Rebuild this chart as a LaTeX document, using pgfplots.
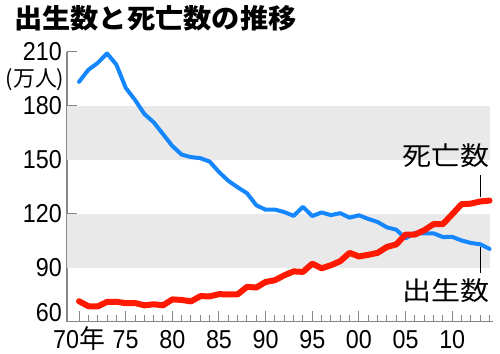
\documentclass[border=0pt]{standalone}
\usepackage{fontspec}
\usepackage{pgfplots}
\pgfplotsset{compat=1.18}
\setmainfont{Liberation Sans}
\newfontfamily\numfont{Liberation Sans}[FakeStretch=0.9]
\newfontfamily\jpfont{Noto Sans CJK JP}
\newfontfamily\jpwide{Noto Sans CJK JP}[FakeStretch=1.12]
\newfontfamily\jptitle{Noto Sans CJK JP}[FakeStretch=1.05]
\definecolor{axisgray}{RGB}{135,135,135}
\definecolor{bandgray}{RGB}{233,233,233}
\definecolor{birthblue}{RGB}{20,135,255}
\definecolor{deathred}{RGB}{255,25,0}
\pgfplotstableread{
year births
1970 193.4
1971 200.1
1972 203.9
1973 209.2
1974 203.0
1975 190.1
1976 183.3
1977 175.5
1978 170.9
1979 164.3
1980 157.7
1981 152.9
1982 151.5
1983 150.9
1984 149.0
1985 143.2
1986 138.3
1987 134.7
1988 131.4
1989 124.7
1990 122.2
1991 122.3
1992 120.9
1993 118.8
1994 123.8
1995 118.7
1996 120.7
1997 119.2
1998 120.3
1999 117.8
2000 119.1
2001 117.1
2002 115.4
2003 112.4
2004 111.1
2005 106.3
2006 109.3
2007 109.0
2008 109.1
2009 107.0
2010 107.1
2011 105.1
2012 103.7
2013 103.0
2014 100.4
}\births
\pgfplotstableread{
year deaths
1970 71.3
1971 68.5
1972 68.4
1973 70.9
1974 71.0
1975 70.2
1976 70.3
1977 69.0
1978 69.6
1979 69.0
1980 72.3
1981 72.0
1982 71.2
1983 74.1
1984 74.0
1985 75.2
1986 75.1
1987 75.1
1988 79.3
1989 78.9
1990 82.0
1991 83.0
1992 85.7
1993 87.9
1994 87.6
1995 92.2
1996 89.6
1997 91.3
1998 93.6
1999 98.2
2000 96.2
2001 97.1
2002 98.2
2003 101.5
2004 102.9
2005 108.4
2006 108.4
2007 110.8
2008 114.2
2009 114.2
2010 119.7
2011 125.3
2012 125.6
2013 126.8
2014 127.3
}\deaths
\begin{document}
\begin{tikzpicture}
\path[use as bounding box] (0,0) rectangle (500bp,354bp);
\begin{axis}[
  at={(67bp,32.5bp)}, anchor=south west, scale only axis,
  width=426bp, height=269.5bp,
  xmin=1968.71, xmax=2014.37, ymin=60, ymax=210,
  axis x line=bottom, axis y line=left,
  axis line style={-, draw=axisgray, line width=1.3bp},
  xtick={1970,1975,...,2010},
  xticklabels={70{\jpfont 年},75,80,85,90,95,00,05,10},
  minor xtick={1971,...,2014},
  ytick={90,120,...,210},
  extra y ticks={60},
  extra y tick style={yticklabel style={anchor=south east}, major tick length=0pt},
  tick style={draw=axisgray, line width=1bp},
  major tick length=10bp, minor tick length=6bp,
  tick align=inside,
  tick label style={font=\numfont\fontsize{26}{26}\selectfont},
  /pgf/number format/assume math mode=true,
  yticklabel style={anchor=east, inner sep=0pt, xshift=-5bp},
  xticklabel style={anchor=north, inner sep=0pt, yshift=-8.5bp, text height=18.6bp},
  clip=false,
]
\fill[bandgray] (axis cs:1968.71,90) rectangle (axis cs:2014.1,120);
\fill[bandgray] (axis cs:1968.71,150) rectangle (axis cs:2014.1,180);
\addplot[birthblue, line width=4bp, line cap=round, line join=round, mark=none] table[x=year, y=births] {\births};
\addplot[deathred, line width=6bp, line cap=round, line join=round, mark=none] table[x=year, y=deaths] {\deaths};
\draw[black, line width=0.8bp] (axis cs:2013,129.5) -- (axis cs:2013,141.5);
\draw[black, line width=0.8bp] (axis cs:2013,101.5) -- (axis cs:2013,87);
\end{axis}
\node[anchor=base west, inner sep=0pt] at (14bp,325bp) {\jptitle\bfseries\fontsize{27}{27}\selectfont 出生数と死亡数の推移};
\node[inner sep=0pt] at (35bp,274bp) {\jpfont\fontsize{22}{22}\selectfont (万人)};
\node[anchor=base east, inner sep=0pt] at (489.5bp,188bp) {\jpwide\fontsize{26}{26}\selectfont 死亡数};
\node[anchor=base east, inner sep=0pt] at (489.5bp,53bp) {\jpwide\fontsize{26}{26}\selectfont 出生数};
\end{tikzpicture}
\end{document}
